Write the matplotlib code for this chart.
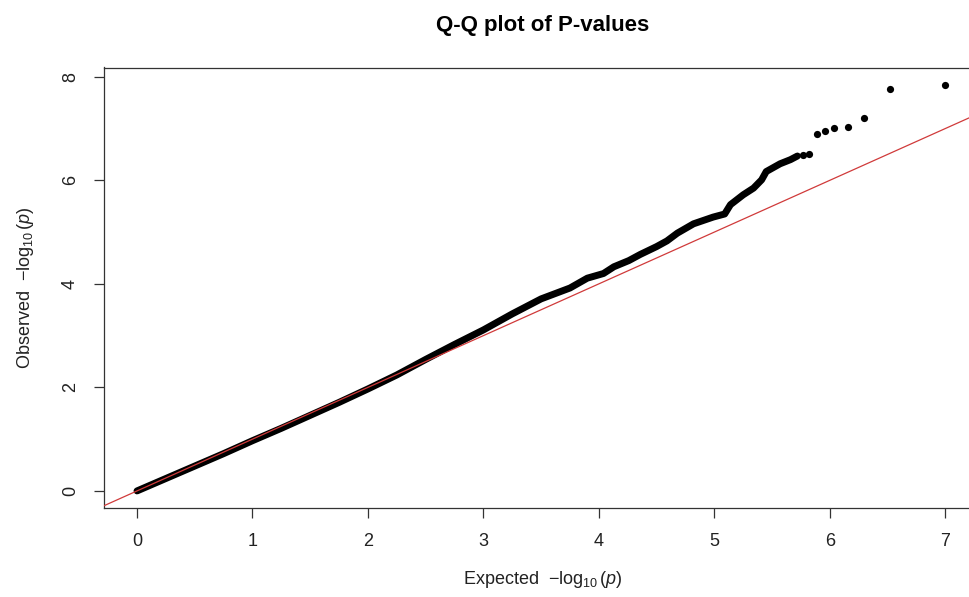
import matplotlib
matplotlib.use("Agg")
import matplotlib.pyplot as plt

plt.rcParams['font.family'] = ['Liberation Sans', 'DejaVu Sans']
plt.rcParams['mathtext.fontset'] = 'custom'
plt.rcParams['mathtext.rm'] = 'Liberation Sans'
plt.rcParams['mathtext.it'] = 'Liberation Sans:italic'

# Main dense band of points (expected, observed)
expected_band = [0.00, 0.25, 0.50, 0.75, 1.00, 1.25, 1.50, 1.75, 2.00, 2.25,
                 2.50, 2.75, 3.00, 3.25, 3.50, 3.75, 3.90, 4.04, 4.13, 4.26,
                 4.36, 4.50, 4.59, 4.68, 4.82, 4.99, 5.09, 5.14, 5.25, 5.34,
                 5.41, 5.45, 5.57, 5.66, 5.72]
observed_band = [0.00, 0.24, 0.48, 0.72, 0.97, 1.21, 1.46, 1.71, 1.97, 2.24,
                 2.54, 2.83, 3.11, 3.42, 3.71, 3.92, 4.11, 4.20, 4.33, 4.45,
                 4.57, 4.72, 4.83, 4.98, 5.16, 5.29, 5.35, 5.53, 5.72, 5.85,
                 6.01, 6.17, 6.32, 6.40, 6.47]

# Individual tail points
expected_tail = [5.77, 5.82, 5.89, 5.96, 6.04, 6.16, 6.30, 6.52, 7.00]
observed_tail = [6.49, 6.51, 6.90, 6.96, 7.01, 7.03, 7.21, 7.76, 7.85]

x_ticks = [0, 1, 2, 3, 4, 5, 6, 7]
y_ticks = [0, 2, 4, 6, 8]

W, H = 969, 597
fig = plt.figure(figsize=(W / 100, H / 100), dpi=100)
left_px, right_px, top_px, bottom_px = 104, 981, 67.5, 508
ax = fig.add_axes([left_px / W, (H - bottom_px) / H,
                   (right_px - left_px) / W, (bottom_px - top_px) / H])

ax.plot(expected_band, observed_band, color='black', lw=5.0,
        solid_capstyle='round', solid_joinstyle='round', zorder=2)
ax.plot(expected_tail, observed_tail, 'o', color='black', ms=5.2,
        mew=0, zorder=2)

ax.axline((0, 0), slope=1, color='#d03a3a', lw=0.9, zorder=3)

ax.set_xlim(-0.286, 7.31)
ax.set_ylim(-0.33, 8.18)
ax.set_xticks(x_ticks)
ax.set_yticks(y_ticks)
ax.tick_params(axis='both', direction='out', length=7.5, width=0.9,
               labelsize=13, pad=10.5, color='#333333', labelcolor='#222222')
for lab in ax.get_yticklabels():
    lab.set_rotation(90)
    lab.set_va('center')
for s in ax.spines.values():
    s.set_linewidth(0.9)
    s.set_color('#333333')

ax.set_xlabel(r'Expected  $-\log_{10}(p)$', fontsize=13, labelpad=14,
              color='#222222')
ax.set_ylabel(r'Observed  $-\log_{10}(p)$', fontsize=13, labelpad=19,
              color='#222222')
ax.set_title('Q-Q plot of P-values', fontsize=16, fontweight='bold',
             pad=26)

fig.savefig('out.png', dpi=100)
